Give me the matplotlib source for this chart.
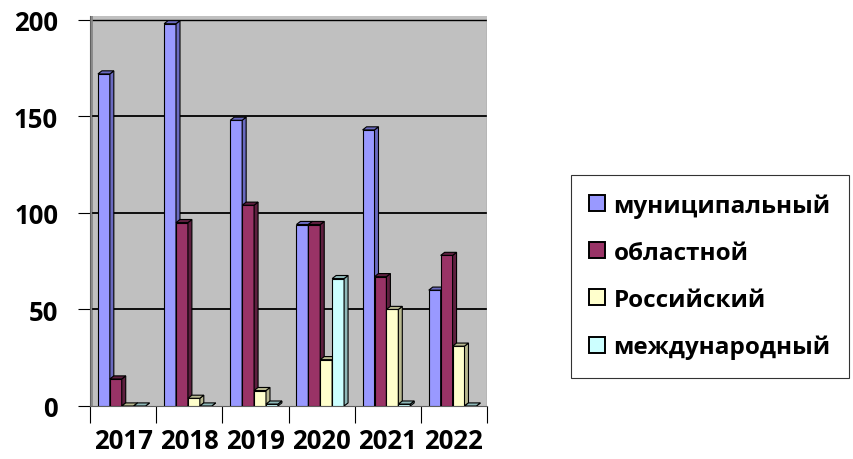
import matplotlib.pyplot as plt
from matplotlib.patches import Polygon, Rectangle
import numpy as np

plt.rcParams['font.family'] = ['Open Sans', 'DejaVu Sans']

years = ['2017', '2018', '2019', '2020', '2021', '2022']
series = ['муниципальный', 'областной', 'Российский', 'международный']
municipal = [172, 198, 148, 94, 143, 60]
regional = [14, 95, 104, 94, 67, 78]
russian = [0, 4, 8, 24, 50, 31]
international = [0, 0, 1, 66, 1, 0]
values = [municipal, regional, russian, international]

face_colors = ['#9999FF', '#993366', '#FFFFCC', '#CCFFFF']
side_colors = ['#6A6AC0', '#5E1F3F', '#B8B890', '#8FB8B8']

fig = plt.figure(figsize=(8.54, 4.6), dpi=100)
ax = fig.add_axes([90 / 854, 1 - 407 / 460, 397 / 854, 390 / 460])
ax.set_facecolor('#C0C0C0')

ymax = 202
ax.set_xlim(0, len(years))
ax.set_ylim(0, ymax)

# 3D depth in data units
dx = 0.06
dy = 1.6
w = 0.18
start = 0.12

# left wall
ax.add_patch(Rectangle((0, 0), 0.04, ymax, facecolor='#8C8C8C', edgecolor='none', zorder=1))

for v in [50, 100, 150]:
    ax.plot([0.04, len(years)], [v, v], color='black', lw=1.3, zorder=1)
ax.plot([0.04, len(years)], [200, 200], color='black', lw=1.0, zorder=1)
ax.plot([len(years), len(years)], [0, 200], color='#909090', lw=1.0, zorder=1)

x = np.arange(len(years))
for k, vals in enumerate(values):
    xs = x + start + k * w
    for xi, h in zip(xs, vals):
        # front face
        ax.add_patch(Rectangle((xi, 0), w, h, facecolor=face_colors[k],
                               edgecolor='black', lw=0.8, zorder=3 + k))
        # side face
        ax.add_patch(Polygon([(xi + w, 0), (xi + w, h), (xi + w + dx, h + dy), (xi + w + dx, dy)],
                             closed=True, facecolor=side_colors[k], edgecolor='black', lw=0.8, zorder=3 + k))
        # top face
        ax.add_patch(Polygon([(xi, h), (xi + w, h), (xi + w + dx, h + dy), (xi + dx, h + dy)],
                             closed=True, facecolor=side_colors[k], edgecolor='black', lw=0.8, zorder=3 + k))

for s in ['top', 'right']:
    ax.spines[s].set_visible(False)
ax.spines['left'].set_color('#606060')
ax.spines['bottom'].set_color('#606060')

ax.set_yticks([0, 50, 100, 150, 200])
ax.set_yticklabels(['0', '50', '100', '150', '200'], fontsize=18.5, fontweight='bold')
ax.tick_params(axis='y', length=9, pad=14)

ax.set_xticks(np.arange(len(years) + 1))
ax.set_xticklabels([])
ax.set_xticks(x + 0.5, minor=True)
ax.set_xticklabels(years, minor=True, fontsize=18.5, fontweight='bold')
ax.tick_params(axis='x', which='major', length=12)
ax.tick_params(axis='x', which='minor', length=0, pad=15)

handles = [Rectangle((0, 0), 1, 1, facecolor=c, edgecolor='black', lw=1.4) for c in face_colors]
leg = fig.legend(handles, series, loc='upper left', bbox_to_anchor=(571 / 854, 1 - 176 / 460),
                 prop={'size': 17.5, 'weight': 'bold'}, frameon=True, fancybox=False,
                 handlelength=0.65, handleheight=0.65, handletextpad=0.35, labelspacing=0.95,
                 borderpad=0.75, borderaxespad=0, edgecolor='black')
leg.get_frame().set_linewidth(0.8)

fig.savefig('out.png', dpi=100)
